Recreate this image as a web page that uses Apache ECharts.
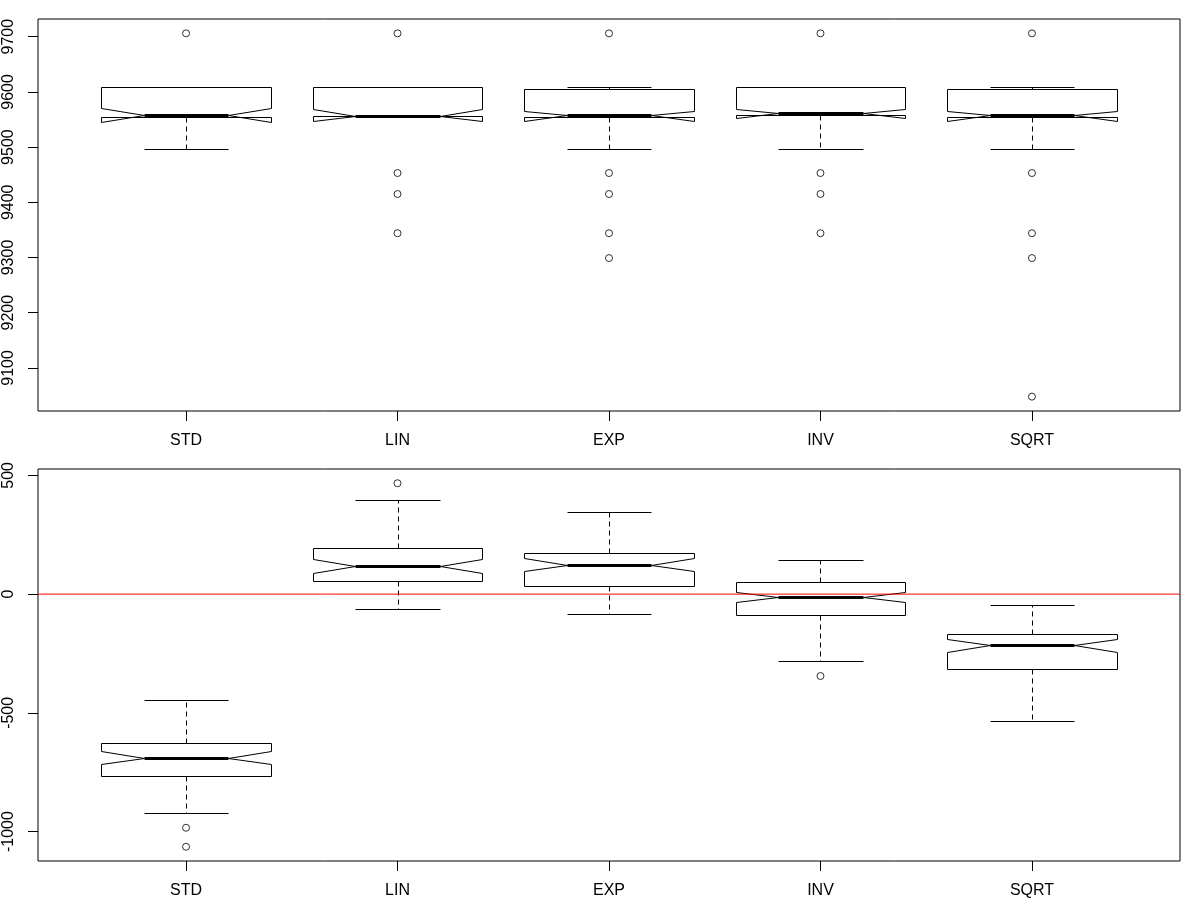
<!DOCTYPE html>
<html>
<head>
<meta charset="utf-8">
<script src="https://cdn.jsdelivr.net/npm/echarts@6/dist/echarts.min.js"></script>
<style>
  html, body { margin: 0; padding: 0; background: #fff; }
  #main { width: 1200px; height: 900px; }
</style>
</head>
<body>
<div id="main"></div>
<script>
// categories shared by both panels
var categories = ['STD', 'LIN', 'EXP', 'INV', 'SQRT'];

// top panel: five-number summary + notch bounds
var topLowWhisker  = [9496, 9556, 9496, 9496, 9496];
var topQ1          = [9555, 9556, 9555, 9558, 9555];
var topNotchLo     = [9546, 9548, 9548, 9552, 9548];
var topMedian      = [9558, 9557, 9558, 9561, 9558];
var topNotchHi     = [9570, 9569, 9566, 9569, 9566];
var topQ3          = [9609, 9608, 9605, 9608, 9605];
var topHighWhisker = [9609, 9608, 9609, 9608, 9609];
var topOutliers    = [
    [9706],
    [9706, 9453, 9415, 9344],
    [9706, 9453, 9415, 9344, 9299],
    [9706, 9453, 9415, 9344],
    [9706, 9453, 9344, 9299, 9048]
];
var topTicks = [9100, 9200, 9300, 9400, 9500, 9600, 9700];

// bottom panel
var botLowWhisker  = [-920, -63, -84, -282, -534];
var botQ1          = [-764, 55, 34, -88, -315];
var botNotchLo     = [-714, 91, 98, -35, -243];
var botMedian      = [-690, 118, 123, -11, -213];
var botNotchHi     = [-659, 147, 151, 10, -187];
var botQ3          = [-627, 193, 172, 51, -166];
var botHighWhisker = [-445, 395, 345, 143, -46];
var botOutliers    = [
    [-984, -1064],
    [467],
    [],
    [-345],
    []
];
var botTicks = [-1000, -500, 0, 500];
var refLevel = 0;   // red reference line in the bottom panel

var catPos = [1, 2, 3, 4, 5];
var xMin = 0.3, xMax = 5.7;

function boxData(lw, q1, nlo, med, nhi, q3, hw) {
    return categories.map(function (c, i) {
        return [catPos[i], lw[i], q1[i], nlo[i], med[i], nhi[i], q3[i], hw[i]];
    });
}
function outlierData(list) {
    var out = [];
    list.forEach(function (vals, i) {
        vals.forEach(function (v) { out.push([catPos[i], v]); });
    });
    return out;
}

// R style notched box, drawn through the axes' coordinate system
function renderNotchBox(params, api) {
    var x = api.value(0);
    var w = 0.4, nw = 0.2, sw = 0.2;
    function pt(dx, v) {
        var c = api.coord([x + dx, v]);
        return [Math.round(c[0]) + 0.5, Math.round(c[1]) + 0.5];
    }
    var lw = api.value(1), q1 = api.value(2), nlo = api.value(3), med = api.value(4),
        nhi = api.value(5), q3 = api.value(6), hw = api.value(7);
    function seg(a, b, width, dashed) {
        return {
            type: 'line',
            shape: { x1: a[0], y1: a[1], x2: b[0], y2: b[1] },
            style: { stroke: '#000', lineWidth: width, lineDash: dashed ? [5, 4] : null, fill: null }
        };
    }
    var children = [];
    if (lw !== q1) children.push(seg(pt(0, q1), pt(0, lw), 1, true));
    if (hw !== q3) children.push(seg(pt(0, q3), pt(0, hw), 1, true));
    children.push(seg(pt(-sw, lw), pt(sw, lw), 1, false));
    children.push(seg(pt(-sw, hw), pt(sw, hw), 1, false));
    children.push({
        type: 'polygon',
        shape: { points: [pt(-w, q1), pt(w, q1), pt(w, nlo), pt(nw, med), pt(w, nhi),
                          pt(w, q3), pt(-w, q3), pt(-w, nhi), pt(-nw, med), pt(-w, nlo)] },
        style: { stroke: '#000', lineWidth: 1, fill: null }
    });
    children.push(seg(pt(-nw, med), pt(nw, med), 3, false));
    return { type: 'group', children: children };
}

var font = 'Liberation Sans, Arial, sans-serif';

function xAxisOpt(gridIndex) {
    return {
        type: 'value', gridIndex: gridIndex, min: xMin, max: xMax,
        position: 'bottom',
        axisLine: { show: false, onZero: false },
        splitLine: { show: false },
        axisTick: { show: true, customValues: catPos, length: 10, lineStyle: { color: '#000', width: 1 } },
        axisLabel: {
            customValues: catPos, margin: 22, color: '#000', fontSize: 16, fontFamily: font,
            formatter: function (v) { return categories[Math.round(v) - 1]; }
        }
    };
}
function yAxisOpt(gridIndex, min, max, ticks) {
    return {
        type: 'value', gridIndex: gridIndex, min: min, max: max,
        position: 'left',
        axisLine: { show: false, onZero: false },
        splitLine: { show: false },
        axisTick: { show: true, customValues: ticks, length: 10, lineStyle: { color: '#000', width: 1 } },
        axisLabel: {
            customValues: ticks, rotate: 90, margin: 21, color: '#000', fontSize: 16, fontFamily: font,
            formatter: function (v) { return String(v); }
        }
    };
}

var outlierStyle = { color: 'rgba(0,0,0,0)', borderColor: '#000', borderWidth: 1 };

var myChart = echarts.init(document.getElementById('main'));
var option = {
    animation: false,
    backgroundColor: '#fff',
    grid: [
        { left: 38, right: 20, top: 19, height: 392, show: true, borderColor: '#000', borderWidth: 1 },
        { left: 38, right: 20, top: 469, height: 392, show: true, borderColor: '#000', borderWidth: 1 }
    ],
    xAxis: [xAxisOpt(0), xAxisOpt(1)],
    yAxis: [yAxisOpt(0, 9022, 9732, topTicks), yAxisOpt(1, -1124, 527, botTicks)],
    series: [
        {
            type: 'custom', xAxisIndex: 0, yAxisIndex: 0, z: 2,
            renderItem: renderNotchBox,
            encode: { x: 0, y: [1, 2, 3, 4, 5, 6, 7] },
            data: boxData(topLowWhisker, topQ1, topNotchLo, topMedian, topNotchHi, topQ3, topHighWhisker)
        },
        {
            type: 'scatter', xAxisIndex: 0, yAxisIndex: 0, z: 3,
            symbol: 'circle', symbolSize: 7,
            itemStyle: outlierStyle,
            data: outlierData(topOutliers)
        },
        {
            type: 'custom', xAxisIndex: 1, yAxisIndex: 1, z: 2,
            renderItem: renderNotchBox,
            encode: { x: 0, y: [1, 2, 3, 4, 5, 6, 7] },
            data: boxData(botLowWhisker, botQ1, botNotchLo, botMedian, botNotchHi, botQ3, botHighWhisker)
        },
        {
            type: 'scatter', xAxisIndex: 1, yAxisIndex: 1, z: 3,
            symbol: 'circle', symbolSize: 7,
            itemStyle: outlierStyle,
            data: outlierData(botOutliers)
        },
        {
            type: 'line', xAxisIndex: 1, yAxisIndex: 1, z: 4,
            showSymbol: false, silent: true,
            lineStyle: { color: '#ff0000', width: 1 },
            data: [[xMin, refLevel], [xMax, refLevel]]
        }
    ]
};
myChart.setOption(option);
</script>
</body>
</html>
